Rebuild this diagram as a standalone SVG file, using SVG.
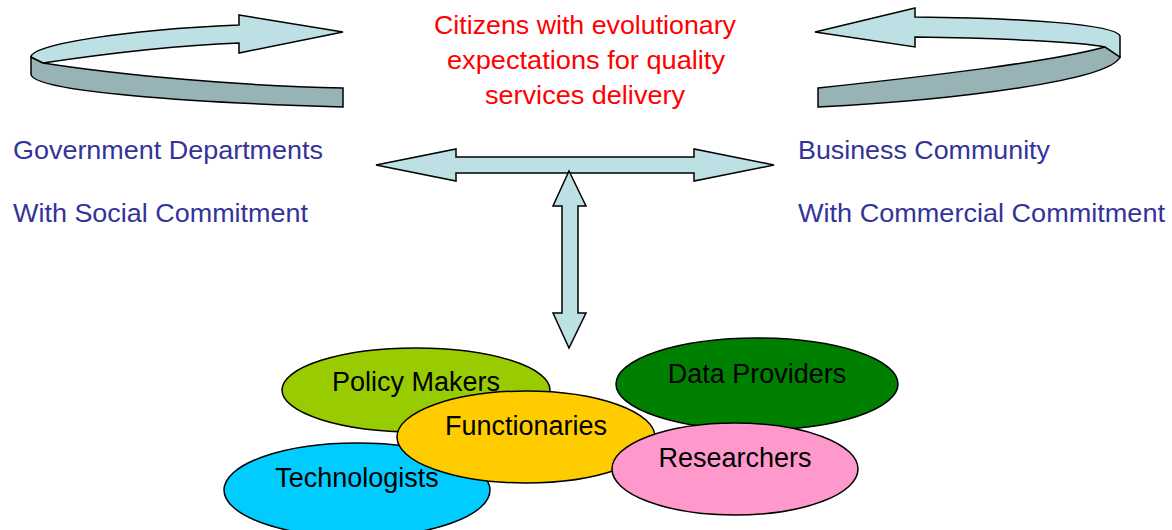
<svg xmlns="http://www.w3.org/2000/svg" width="1172" height="530" viewBox="0 0 1172 530">
<style>
.arrow{fill:#BCE0E4;stroke:#000;stroke-width:1.5;stroke-linejoin:miter}
.band{fill:#97B3B5;stroke:#000;stroke-width:1.5}
.node{stroke:#000;stroke-width:1.5}
.t{font-family:"Liberation Sans",Arial,sans-serif;font-size:25px;text-anchor:middle}
.red{fill:#FF0000}
.blue{fill:#333399;text-anchor:start}
.lbl{font-family:"Liberation Sans",Arial,sans-serif;font-size:27px;text-anchor:middle;fill:#000}
</style>
<rect width="1172" height="530" fill="#fff"/>
<g id="connectors">
  <g id="cycle-left">
    <path class="band" d="M31,57 L43,63 C120,75 240,86 343,88 L343,107 C200,103 31,92 31,74 Z"/>
    <path class="arrow" d="M239,15 L343,32 L239,53 L239,43 C160,46 90,56 43,63 L31,57 C31,45 120,30 239,25 Z"/>
  </g>
  <g id="cycle-right">
    <path class="band" d="M1105,47 L1120,57 C1110,80 960,100 818,107 L818,88 C930,76 1050,62 1105,47 Z"/>
    <path class="arrow" d="M915,8 L815,32 L915,47 L915,37 C1000,38 1080,42 1105,47 L1120,57 L1120,36 C1115,24 1020,18 915,17 Z"/>
  </g>
  <polygon id="arrow-horizontal" class="arrow" points="376,165 456,149 456,157 694,157 694,149 774,165 694,181 694,173 456,173 456,181"/>
  <polygon id="arrow-vertical" class="arrow" points="569,171 586,206 578,206 578,313 586,313 569,348 553,313 562,313 562,206 553,206"/>
</g>
<g id="citizens">
  <text class="t red" x="585" y="34" textLength="302" lengthAdjust="spacingAndGlyphs">Citizens with evolutionary</text>
  <text class="t red" x="586" y="69" textLength="278" lengthAdjust="spacingAndGlyphs">expectations for quality</text>
  <text class="t red" x="585" y="104" textLength="200" lengthAdjust="spacingAndGlyphs">services delivery</text>
</g>
<g id="government">
  <text class="t blue" x="13" y="159" textLength="310" lengthAdjust="spacingAndGlyphs">Government Departments</text>
  <text class="t blue" x="13" y="222" textLength="295" lengthAdjust="spacingAndGlyphs">With Social Commitment</text>
</g>
<g id="business">
  <text class="t blue" x="798" y="159" textLength="252" lengthAdjust="spacingAndGlyphs">Business Community</text>
  <text class="t blue" x="798" y="222" textLength="367" lengthAdjust="spacingAndGlyphs">With Commercial Commitment</text>
</g>
<g id="node-policy-makers"><ellipse class="node" cx="416" cy="390" rx="134" ry="42" fill="#99CC00"/></g>
<g id="node-technologists"><ellipse class="node" cx="357" cy="490" rx="133" ry="47" fill="#00CCFF"/></g>
<g id="node-functionaries"><ellipse class="node" cx="526" cy="437" rx="129" ry="46" fill="#FFCC00"/></g>
<g id="node-data-providers"><ellipse class="node" cx="757" cy="384" rx="141" ry="46" fill="#008000"/></g>
<g id="node-researchers"><ellipse class="node" cx="735" cy="469" rx="123" ry="46" fill="#FF99CC"/></g>
<g id="node-labels">
  <text class="lbl" x="416" y="391">Policy Makers</text>
  <text class="lbl" x="357" y="487">Technologists</text>
  <text class="lbl" x="526" y="435">Functionaries</text>
  <text class="lbl" x="757" y="383">Data Providers</text>
  <text class="lbl" x="735" y="467">Researchers</text>
</g>
</svg>
